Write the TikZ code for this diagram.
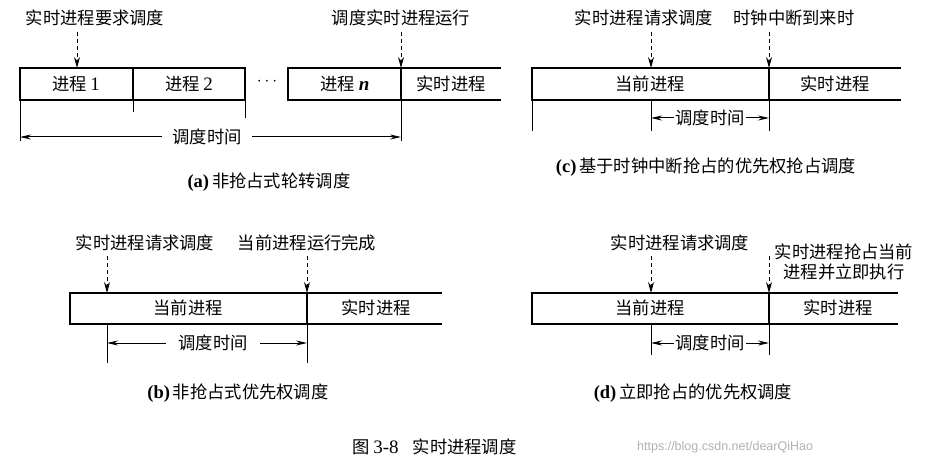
\documentclass[tikz,border=0pt]{standalone}
\usepackage{fontspec}
\setmainfont{Liberation Serif}
\newfontfamily\cjk{Noto Sans CJK SC}
\usetikzlibrary{arrows.meta}
\newcommand{\lat}[1]{{\rmfamily\fontsize{19}{20}\selectfont #1}}
\newcommand{\capl}[1]{{\rmfamily\bfseries\fontsize{18.5}{20}\selectfont #1}}
\begin{document}
\begin{tikzpicture}[x=1pt,y=-1pt,
  box/.style={line width=1.3pt},
  divl/.style={line width=1.8pt},
  lbl/.style={font=\fontsize{17.3}{20}\selectfont\cjk, inner sep=0pt},
  req/.style={line width=0.9pt, dash pattern=on 4pt off 3pt, -{Stealth[length=11pt,width=6pt]}},
  guide/.style={line width=1pt},
  dimline/.style={line width=1pt, {Stealth[length=11pt,width=5pt]}-{Stealth[length=11pt,width=5pt]}},
  dimtext/.style={lbl, fill=white, inner ysep=1pt}]
\useasboundingbox[fill=white] (0,0) rectangle (952,473);

% ---------------- (a) ----------------
\draw[box] (20,68) rectangle (133,100);
\draw[box] (133,68) rectangle (245,100);
\draw[box] (501,68) -- (288,68) -- (288,100) -- (501,100);
\draw[divl] (401,68) -- (401,100);
\node[lbl] (a1) at (76,84) {进程 \lat{1}};
\node[lbl] (a2) at (189,84) {进程 \lat{2}};
\node[lbl, font=\fontsize{17}{18}\selectfont] (adots) at (267,82) {$\cdots$};
\node[lbl] (an) at (345,84) {进程 \lat{\bfseries\itshape n}};
\node[lbl] (art) at (451,84) {实时进程};
\node[lbl] (areq) at (95,18) {实时进程要求调度};
\node[lbl] (arun) at (401,18) {调度实时进程运行};
\coordinate (aq1) at (77,32); \coordinate (aq2) at (77,68);
\coordinate (ar1) at (401,32); \coordinate (ar2) at (401,68);
\draw[req] (aq1) -- (aq2);
\draw[req] (ar1) -- (ar2);
\draw[guide] (20,100) -- (20,141);
\draw[guide] (133,100) -- (133,112);
\draw[guide] (245,100) -- (245,118);
\draw[guide] (401,100) -- (401,141);
\coordinate (ad1) at (20,137); \coordinate (ad2) at (401,137);
\draw[dimline] (ad1) -- (ad2);
\node[dimtext, inner xsep=10pt] (adt) at (207,137) {调度时间};
\node[lbl] (acap) at (269,182) {\capl{(a)}\,非抢占式轮转调度};

% ---------------- (c) ----------------
\draw[box] (901,68) -- (532,68) -- (532,100) -- (901,100);
\draw[divl] (769,68) -- (769,100);
\node[lbl] (ccur) at (650,84) {当前进程};
\node[lbl] (crt) at (835,84) {实时进程};
\node[lbl] (creq) at (644,18) {实时进程请求调度};
\node[lbl] (cclk) at (794,18) {时钟中断到来时};
\coordinate (cq1) at (651,32); \coordinate (cq2) at (651,68);
\coordinate (cr1) at (769,32); \coordinate (cr2) at (769,68);
\draw[req] (cq1) -- (cq2);
\draw[req] (cr1) -- (cr2);
\draw[guide] (532,100) -- (532,131);
\draw[guide] (651,100) -- (651,131);
\draw[guide] (769,100) -- (769,131);
\coordinate (cd1) at (651,118); \coordinate (cd2) at (769,118);
\draw[dimline] (cd1) -- (cd2);
\node[dimtext, inner xsep=1.5pt] (cdt) at (710,118) {调度时间};
\node[lbl] (ccap) at (706,167) {\capl{(c)}\,基于时钟中断抢占的优先权抢占调度};

% ---------------- (b) ----------------
\draw[box] (442,293) -- (70,293) -- (70,324) -- (442,324);
\draw[divl] (307,293) -- (307,324);
\node[lbl] (bcur) at (188,308) {当前进程};
\node[lbl] (brt) at (376,308) {实时进程};
\node[lbl] (breq) at (145,243) {实时进程请求调度};
\node[lbl] (bfin) at (307,243) {当前进程运行完成};
\coordinate (bq1) at (107,256); \coordinate (bq2) at (107,293);
\coordinate (br1) at (307,256); \coordinate (br2) at (307,293);
\draw[req] (bq1) -- (bq2);
\draw[req] (br1) -- (br2);
\draw[guide] (107,324) -- (107,363);
\draw[guide] (307,324) -- (307,363);
\coordinate (bd1) at (107,343); \coordinate (bd2) at (307,343);
\draw[dimline] (bd1) -- (bd2);
\node[dimtext, inner xsep=12pt] (bdt) at (213,343) {调度时间};
\node[lbl] (bcap) at (238,393) {\capl{(b)}\,非抢占式优先权调度};

% ---------------- (d) ----------------
\draw[box] (898,293) -- (532,293) -- (532,324) -- (898,324);
\draw[divl] (769,293) -- (769,324);
\node[lbl] (dcur) at (650,308) {当前进程};
\node[lbl] (drt) at (838,308) {实时进程};
\node[lbl] (dreq) at (680,243) {实时进程请求调度};
\node[lbl, align=center, font=\fontsize{17.3}{20.5}\selectfont\cjk] (dpre) at (844,262) {实时进程抢占当前\\进程并立即执行};
\coordinate (dq1) at (651,256); \coordinate (dq2) at (651,293);
\coordinate (dr1) at (769,256); \coordinate (dr2) at (769,293);
\draw[req] (dq1) -- (dq2);
\draw[req] (dr1) -- (dr2);
\draw[guide] (651,324) -- (651,355);
\draw[guide] (769,324) -- (769,355);
\coordinate (dd1) at (651,343); \coordinate (dd2) at (769,343);
\draw[dimline] (dd1) -- (dd2);
\node[dimtext, inner xsep=1.5pt] (ddt) at (710,343) {调度时间};
\node[lbl] (dcap) at (693,393) {\capl{(d)}\,立即抢占的优先权调度};

% ---------------- figure caption ----------------
\node[lbl, anchor=west] (fig) at (352,447) {图 \lat{3-8}\hspace{14pt}实时进程调度};
\node[inner sep=0pt, anchor=west, text=black!30, font=\fontsize{12.5}{14}\selectfont\fontspec{Liberation Sans}] (wm) at (637,447) {https://blog.csdn.net/dearQiHao};
\end{tikzpicture}
\end{document}
